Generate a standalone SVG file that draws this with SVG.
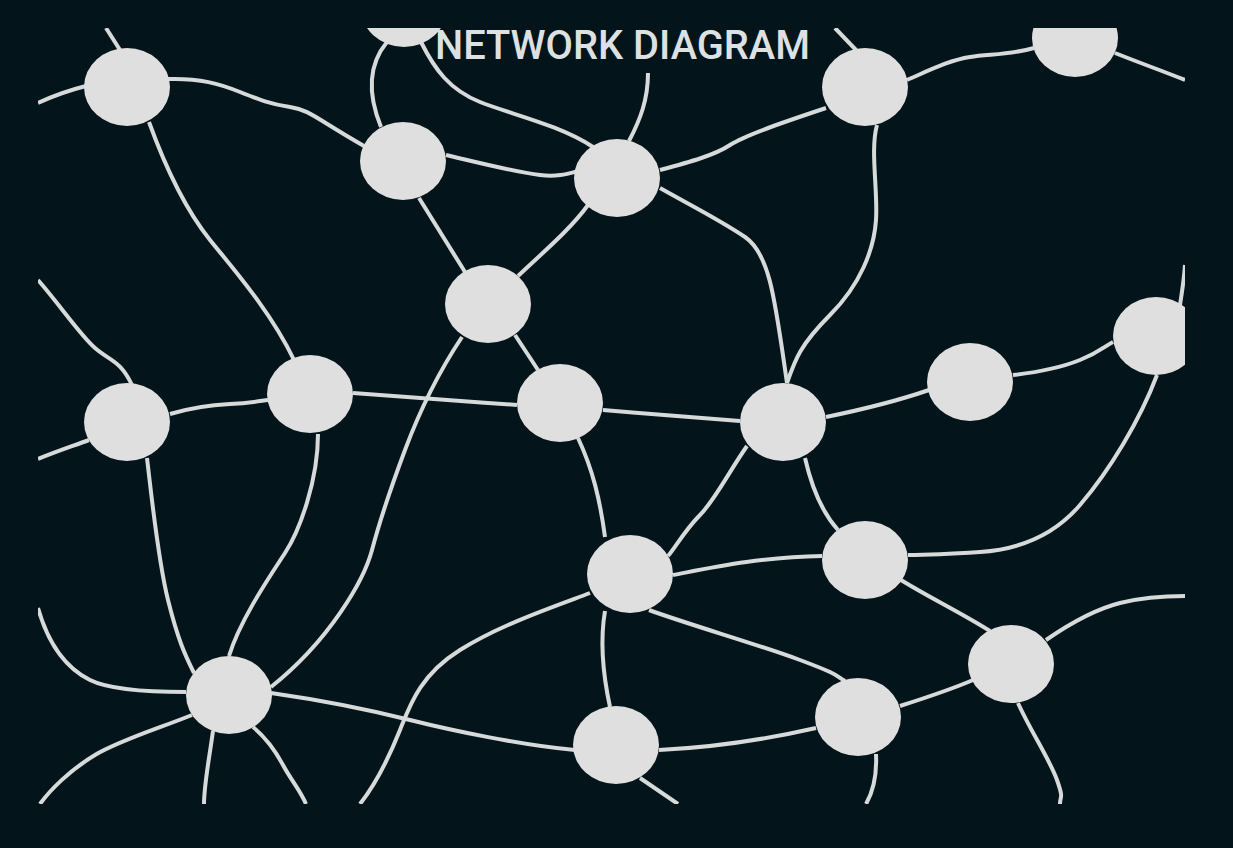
<svg xmlns="http://www.w3.org/2000/svg" width="1233" height="848" viewBox="0 0 1233 848">
<style>
.e{fill:none;stroke:#d6dada;stroke-width:4;stroke-linecap:butt}
.n{fill:#dfdfdf}
.t{font-family:Roboto,"Liberation Sans",sans-serif;font-size:40px;font-weight:500;fill:#dde1e1}
</style>
<defs>
<clipPath id="c"><rect x="38" y="28" width="1147" height="776"/></clipPath>
</defs>
<rect width="1233" height="848" fill="#03141a"/>
<g clip-path="url(#c)">
<g id="connectors">
<path class="e" d="M38,103 C55,95 70,90 86,86"/>
<path class="e" d="M106,28 L120,50"/>
<path class="e" d="M168,79 C200,78 220,84 240,92 S270,104 290,107 S315,118 364,146"/>
<path class="e" d="M149,122 C170,180 190,215 210,240 S270,310 294,360"/>
<path class="e" d="M381,127 C368,95 368,65 387,42"/>
<path class="e" d="M421,42 C435,70 450,90 480,102 S560,125 593,147"/>
<path class="e" d="M446,155 C480,163 515,172 540,175 S575,170 593,168"/>
<path class="e" d="M419,198 L465,272"/>
<path class="e" d="M588,205 C570,230 540,255 518,276"/>
<path class="e" d="M648,73 C648,100 640,120 629,141"/>
<path class="e" d="M660,170 C690,162 715,155 730,145 S790,120 826,108"/>
<path class="e" d="M660,188 C690,205 720,220 745,237 S775,300 787,383"/>
<path class="e" d="M835,28 L856,50"/>
<path class="e" d="M907,80 C930,70 950,60 970,57 S1010,55 1034,48"/>
<path class="e" d="M1115,53 C1140,63 1160,70 1185,80"/>
<path class="e" d="M877,125 C870,150 878,190 876,220 S860,285 830,315 S795,360 787,383"/>
<path class="e" d="M826,417 C860,410 900,400 929,390"/>
<path class="e" d="M1013,375 C1040,372 1060,368 1080,360 S1105,346 1113,342"/>
<path class="e" d="M1185,265 C1184,280 1182,292 1180,305"/>
<path class="e" d="M1157,375 C1140,420 1110,470 1080,505 S1010,550 980,552 S930,555 908,555"/>
<path class="e" d="M805,458 C810,480 820,510 838,530"/>
<path class="e" d="M747,446 C730,470 715,500 700,515 S675,548 668,556"/>
<path class="e" d="M673,575 C710,568 760,557 822,556"/>
<path class="e" d="M901,580 C930,598 960,612 990,631"/>
<path class="e" d="M1046,640 C1075,620 1100,608 1120,603 S1160,596 1185,596"/>
<path class="e" d="M649,610 C690,625 760,645 800,660 S835,675 845,681"/>
<path class="e" d="M900,706 C925,698 950,690 973,680"/>
<path class="e" d="M1018,703 C1030,730 1050,760 1057,780 S1060,795 1060,804"/>
<path class="e" d="M876,754 C877,775 874,790 866,804"/>
<path class="e" d="M659,750 C700,748 750,743 816,728"/>
<path class="e" d="M640,778 L678,804"/>
<path class="e" d="M605,611 C600,640 602,670 610,707"/>
<path class="e" d="M605,537 C600,500 593,470 578,438"/>
<path class="e" d="M515,335 L538,370"/>
<path class="e" d="M462,337 C440,370 420,410 405,450 S380,520 372,550 S330,640 271,687"/>
<path class="e" d="M353,393 C400,396 460,401 517,405"/>
<path class="e" d="M603,410 C650,414 700,418 740,421"/>
<path class="e" d="M170,414 C190,408 210,405 230,404 S260,401 268,400"/>
<path class="e" d="M38,280 C60,305 80,335 95,348 S120,360 132,385"/>
<path class="e" d="M89,440 C70,447 55,452 38,459"/>
<path class="e" d="M147,458 C152,500 158,560 168,600 S185,655 194,673"/>
<path class="e" d="M318,434 C318,480 300,530 285,553 S240,620 229,656"/>
<path class="e" d="M186,692 C150,692 110,690 90,680 S50,650 38,608"/>
<path class="e" d="M192,715 C160,728 120,740 95,755 S50,790 40,804"/>
<path class="e" d="M213,731 C209,760 204,785 204,804"/>
<path class="e" d="M253,727 C265,737 275,750 283,765 S300,790 306,804"/>
<path class="e" d="M271,693 C320,700 370,710 410,720 S520,745 575,750"/>
<path class="e" d="M590,593 C550,608 500,625 460,650 S410,705 400,730 S375,785 360,804"/>
</g>
<g id="n1"><ellipse class="n" cx="127" cy="87" rx="43" ry="39"/></g>
<g id="n2"><ellipse class="n" cx="403" cy="161" rx="43" ry="39"/></g>
<g id="n3"><ellipse class="n" cx="617" cy="178" rx="43" ry="39"/></g>
<g id="n4"><ellipse class="n" cx="488" cy="304" rx="43" ry="39"/></g>
<g id="n5"><ellipse class="n" cx="310" cy="394" rx="43" ry="39"/></g>
<g id="n6"><ellipse class="n" cx="127" cy="422" rx="43" ry="39"/></g>
<g id="n7"><ellipse class="n" cx="560" cy="403" rx="43" ry="39"/></g>
<g id="n8"><ellipse class="n" cx="783" cy="422" rx="43" ry="39"/></g>
<g id="n9"><ellipse class="n" cx="970" cy="382" rx="43" ry="39"/></g>
<g id="n10"><ellipse class="n" cx="1156" cy="336" rx="43" ry="39"/></g>
<g id="n11"><ellipse class="n" cx="865" cy="87" rx="43" ry="39"/></g>
<g id="n12"><ellipse class="n" cx="1075" cy="38" rx="43" ry="39"/></g>
<g id="n13"><ellipse class="n" cx="404" cy="8" rx="43" ry="39"/></g>
<g id="n14"><ellipse class="n" cx="630" cy="574" rx="43" ry="39"/></g>
<g id="n15"><ellipse class="n" cx="865" cy="560" rx="43" ry="39"/></g>
<g id="n16"><ellipse class="n" cx="1011" cy="664" rx="43" ry="39"/></g>
<g id="n17"><ellipse class="n" cx="858" cy="717" rx="43" ry="39"/></g>
<g id="n18"><ellipse class="n" cx="616" cy="745" rx="43" ry="39"/></g>
<g id="n19"><ellipse class="n" cx="229" cy="695" rx="43" ry="39"/></g>
</g>
<text class="t" x="435" y="59" textLength="375" lengthAdjust="spacingAndGlyphs">NETWORK DIAGRAM</text>
</svg>
